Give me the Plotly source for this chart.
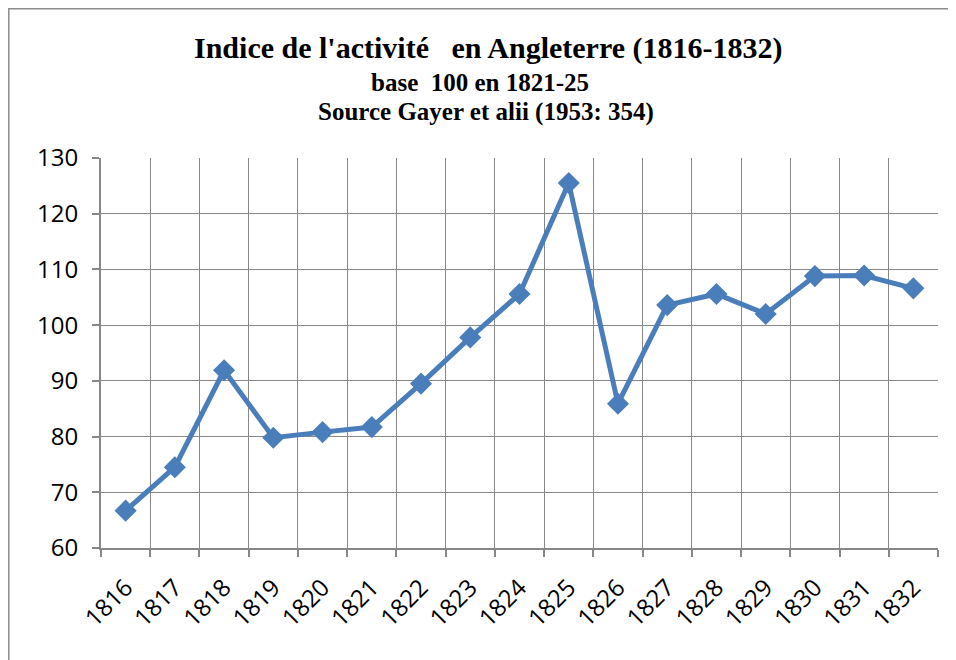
import plotly.graph_objects as go

years = ["1816", "1817", "1818", "1819", "1820", "1821", "1822", "1823", "1824",
         "1825", "1826", "1827", "1828", "1829", "1830", "1831", "1832"]
values = [66.7, 74.5, 91.9, 79.8, 80.8, 81.7, 89.5, 97.8, 105.6,
          125.5, 85.9, 103.6, 105.6, 102.0, 108.8, 108.9, 106.6]
y_ticks = [60, 70, 80, 90, 100, 110, 120, 130]

title1 = "Indice de l'activité\u00a0\u00a0 en Angleterre (1816-1832)"
title2 = "base\u00a0 100 en 1821-25"
title3 = "Source Gayer et alii (1953: 354)"

OFF = 8  # page body margin
W, H = 956 - OFF, 660 - OFF
L, T = 101 - OFF, 158 - OFF
pw, ph = 837, 390
R, B = W - L - pw, H - T - ph

def px(xpage):
    return (xpage - OFF - L) / pw

def py(ypage):
    return 1 + (T - (ypage - OFF)) / ph

fig = go.Figure()
fig.add_trace(go.Scatter(
    x=years, y=values, mode="lines+markers",
    line=dict(color="#4A7EBB", width=5),
    marker=dict(symbol="diamond", size=17, color="#4A7EBB"),
    showlegend=False, cliponaxis=False,
))

grid = "#878787"
tickfont = dict(family="Open Sans, Noto Sans, sans-serif", size=24, color="#000000")

fig.update_xaxes(
    type="category", tickson="boundaries", showgrid=True, gridcolor=grid, gridwidth=1.2,
    ticks="outside", ticklen=7, tickcolor=grid, tickwidth=1.5,
    showline=True, linecolor=grid, linewidth=2,
    tickangle=-45, tickfont=tickfont, range=[-0.5, 16.5], ticklabelstandoff=14,
)
fig.update_yaxes(
    range=[60, 130], tickvals=y_ticks, showgrid=True, gridcolor=grid, gridwidth=1.2,
    ticks="outside", ticklen=7, tickcolor=grid, tickwidth=1.5,
    showline=True, linecolor=grid, linewidth=2,
    tickfont=tickfont, zeroline=False, ticklabelstandoff=9,
)

serif = "Liberation Serif, Times New Roman, serif"
fig.add_annotation(text="<b>" + title1 + "</b>", xref="paper", yref="paper",
                   x=px(488), y=py(48), showarrow=False,
                   font=dict(family=serif, size=30, color="#000"),
                   xanchor="center", yanchor="middle")
fig.add_annotation(text="<b>" + title2 + "</b>", xref="paper", yref="paper",
                   x=px(480), y=py(82), showarrow=False,
                   font=dict(family=serif, size=25, color="#000"),
                   xanchor="center", yanchor="middle")
fig.add_annotation(text="<b>" + title3 + "</b>", xref="paper", yref="paper",
                   x=px(486), y=py(112), showarrow=False,
                   font=dict(family=serif, size=25, color="#000"),
                   xanchor="center", yanchor="middle")

# outer chart border (only top and left visible in the crop)
fig.add_shape(type="rect", xref="paper", yref="paper",
              x0=px(8.8), x1=px(990),
              y0=py(700), y1=py(8.8),
              line=dict(color="#8c8c8c", width=1.5), fillcolor="rgba(0,0,0,0)", layer="below")

fig.update_layout(
    width=W, height=H,
    margin=dict(l=L, r=R, t=T, b=B),
    paper_bgcolor="white", plot_bgcolor="white",
)

fig.write_html("out.html")
